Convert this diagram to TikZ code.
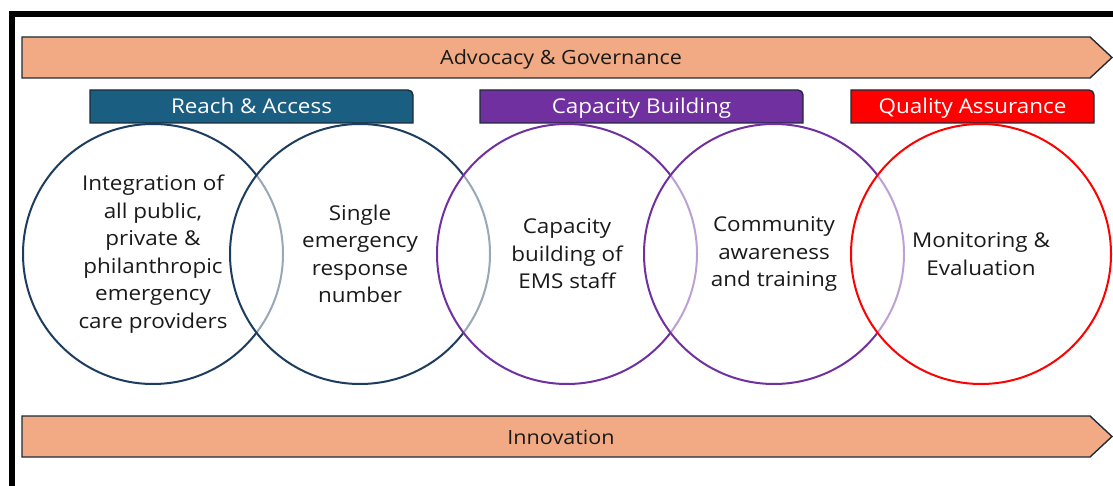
\documentclass[tikz,border=0pt]{standalone}
\usepackage{fontspec}
\setmainfont{Open Sans}[FakeStretch=1.1]
\definecolor{peach}{HTML}{F1AA84}
\definecolor{edgedark}{HTML}{1E2B38}
\definecolor{reachblue}{HTML}{1A5E82}
\definecolor{navyring}{HTML}{1D3D60}
\definecolor{capviolet}{HTML}{7030A0}
\definecolor{qared}{HTML}{FF0000}
\definecolor{inktext}{HTML}{1A1A1A}
\begin{document}
\begin{tikzpicture}[x=1pt,y=-1pt,
  banner/.style={fill=peach,draw=edgedark,line width=1.4pt,line join=miter},
  bannertext/.style={font=\fontsize{19.6}{24}\selectfont,text=inktext,inner sep=0pt,anchor=base},
  hdrbox/.style={draw=edgedark,line width=1.4pt},
  hdrtext/.style={font=\fontsize{20.4}{24}\selectfont,text=white,inner sep=0pt,anchor=base},
  ring/.style={circle,minimum size=260pt,inner sep=0pt,line width=2pt,
    fill=white,fill opacity=0.55,draw opacity=1,text opacity=1,
    align=center,text=inktext,font=\fontsize{20.4}{27.5}\selectfont},
]
\useasboundingbox (0,0) rectangle (1113,486);
\fill[white] (0,0) rectangle (1113,486);

% outer frame (top and left edges)
\draw[line width=6pt] (11.5,490) -- (11.5,14.5) -- (1120,14.5);

% chevron banners
\draw[banner] (22,37) -- (1090,37) -- (1112,57.5) -- (1090,78) -- (22,78) -- cycle;
\node[bannertext] (advocacy) at (561,65) {Advocacy \& Governance};
\draw[banner] (22,416) -- (1090,416) -- (1112,436.5) -- (1090,457) -- (22,457) -- cycle;
\node[bannertext] (innovation) at (561,444) {Innovation};

% pillar headers, top-right corner rounded
\draw[hdrbox,fill=reachblue] (90,123) -- (90,90) -- (408,90)
  arc[start angle=-90,end angle=0,radius=5] -- (413,123) -- cycle;
\node[hdrtext] (reach) at (251.5,114) {Reach \& Access};
\draw[hdrbox,fill=capviolet] (480,123) -- (480,90) -- (798,90)
  arc[start angle=-90,end angle=0,radius=5] -- (803,123) -- cycle;
\node[hdrtext] (capacity) at (641.5,114) {Capacity Building};
\draw[hdrbox,fill=qared] (851,123) -- (851,90) -- (1089,90)
  arc[start angle=-90,end angle=0,radius=5] -- (1094,123) -- cycle;
\node[hdrtext] (quality) at (972.5,114) {Quality Assurance};

% overlapping rings, left to right
\node[ring,draw=navyring] (integration) at (153,254)
  {Integration of\\all public,\\private \&\\philanthropic\\emergency\\care providers};
\node[ring,draw=navyring] (single) at (360,254)
  {Single\\emergency\\response\\number};
\node[ring,draw=capviolet] (emsstaff) at (567,254)
  {Capacity\\building of\\EMS staff};
\node[ring,draw=capviolet] (community) at (774,254)
  {Community\\awareness\\and training};
\node[ring,draw=qared] (monitoring) at (981,254)
  {Monitoring \&\\Evaluation};
\end{tikzpicture}
\end{document}
